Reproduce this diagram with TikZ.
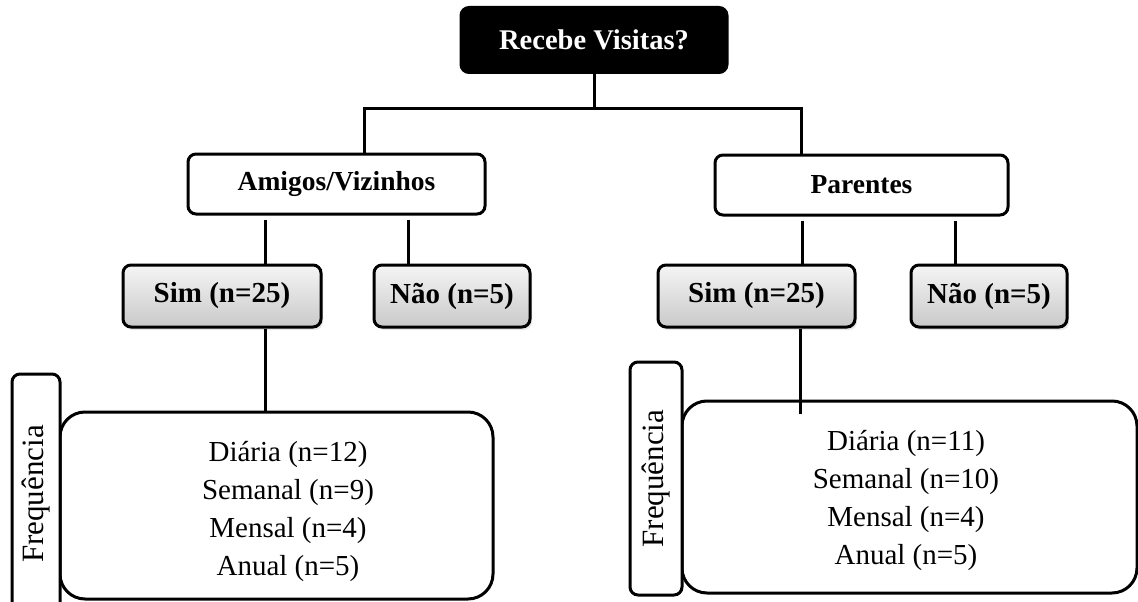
\documentclass[tikz,border=0pt]{standalone}
\usepackage{fontspec}
\setmainfont{Liberation Serif}
\usetikzlibrary{calc,shadows}

\tikzset{
  box/.style={draw=black, line width=3pt, rounded corners=8pt, inner sep=0pt,
    fill=white, align=center},
  topbox/.style={box, fill=black, text=white,
    font=\fontsize{28.5}{32}\selectfont\bfseries},
  catbox/.style={box, font=\fontsize{27.5}{32}\selectfont\bfseries},
  answerbox/.style={box, top color=gray!8, bottom color=gray!42,
    font=\fontsize{29}{32}\selectfont\bfseries,
    drop shadow={opacity=0.18, shadow xshift=2pt, shadow yshift=-3pt}},
  listbox/.style={box, rounded corners=25pt},
  listtext/.style={align=center, inner sep=0pt, font=\fontsize{29}{38}\selectfont},
  sidebox/.style={box, rotate=90, font=\fontsize{31}{34}\selectfont},
  link/.style={line width=3pt}
}

\begin{document}
\begin{tikzpicture}[x=1pt, y=-1pt]
  \useasboundingbox (0,0) rectangle (1138,602);

  % question at the top
  \node[topbox, minimum width=266pt, minimum height=65pt] (top) at (594,40) {Recebe Visitas?};

  % who visits
  \node[catbox, minimum width=297pt, minimum height=60pt] (amigos) at (336.5,184) {Amigos/Vizinhos};
  \node[catbox, minimum width=293pt, minimum height=60pt] (parentes) at (861.5,185) {Parentes};

  % yes / no answers
  \node[answerbox, minimum width=198pt, minimum height=62pt] (simL) at (222,296) {Sim (n=25)};
  \node[answerbox, minimum width=156pt, minimum height=62pt] (naoL) at (452,296) {Não (n=5)};
  \node[answerbox, minimum width=197pt, minimum height=62pt] (simR) at (756.5,296) {Sim (n=25)};
  \node[answerbox, minimum width=156pt, minimum height=62pt] (naoR) at (989,296) {Não (n=5)};

  % frequency breakdowns
  \node[listbox, minimum width=433pt, minimum height=187pt] (listL) at (276.5,505.5) {};
  \node[listtext] (listLtext) at (288,511)
    {Diária (n=12)\\Semanal (n=9)\\Mensal (n=4)\\Anual (n=5)};
  \node[sidebox, minimum width=240pt, minimum height=48pt] (freqL) at (36,494) {Frequência};

  \node[listbox, minimum width=455pt, minimum height=192pt] (listR) at (909.5,497) {};
  \node[listtext] (listRtext) at (906,500)
    {Diária (n=11)\\Semanal (n=10)\\Mensal (n=4)\\Anual (n=5)};
  \node[sidebox, minimum width=233pt, minimum height=52pt] (freqR) at (656,478.5) {Frequência};

  % connectors
  \coordinate (hub) at (594,108);
  \draw[link] (top.south) -- (hub);
  \draw[link] ($(amigos.north)+(27.5,0)$) |- (hub) -| ($(parentes.north)+(-60.5,0)$);

  \draw[link, shorten <=4pt] ($(amigos.south)+(-71.5,0)$) -- ($(simL.north)+(43,0)$);
  \draw[link, shorten <=4pt] ($(amigos.south)+(71.5,0)$) -- ($(naoL.north)+(-44,0)$);
  \draw[link, shorten <=4pt] ($(parentes.south)+(-59.5,0)$) -- ($(simR.north)+(45.5,0)$);
  \draw[link, shorten <=4pt] ($(parentes.south)+(93.5,0)$) -- ($(naoR.north)+(-34,0)$);

  \draw[link] ($(simL.south)+(43,0)$) -- ($(listL.north)+(-11.5,0)$);
  \draw[link] ($(simR.south)+(43.5,0)$) -- ($(listR.north)+(-109.5,14)$);
\end{tikzpicture}
\end{document}
